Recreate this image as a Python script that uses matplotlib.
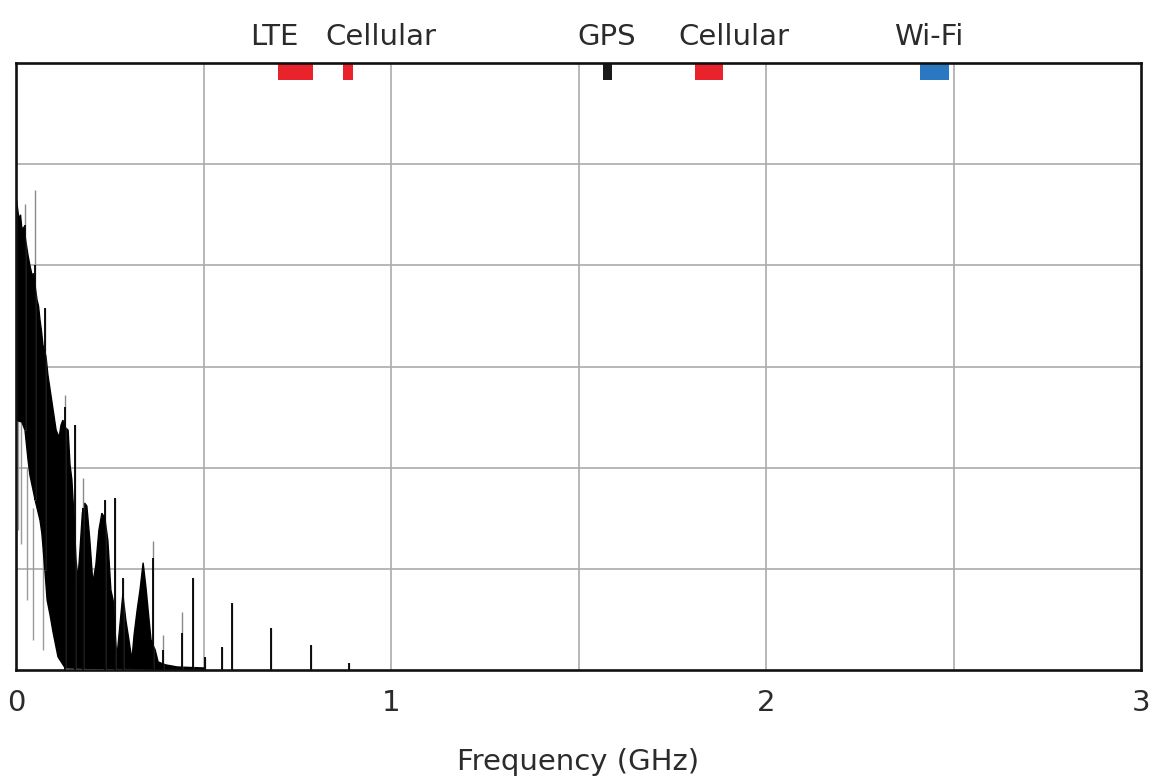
import matplotlib
matplotlib.use("Agg")
import matplotlib.pyplot as plt

# ---- data (frequency in GHz, level in grid divisions) ----
upper_freq = [0.000, 0.003, 0.008, 0.012, 0.016, 0.021, 0.027, 0.032, 0.037, 0.043,
              0.047, 0.051, 0.056, 0.060, 0.064, 0.068, 0.072, 0.080, 0.085, 0.093,
              0.099, 0.107, 0.115, 0.120, 0.125, 0.131, 0.139, 0.144, 0.149, 0.155,
              0.160, 0.165, 0.170, 0.177, 0.183, 0.189, 0.197, 0.205, 0.213, 0.221,
              0.229, 0.237, 0.245, 0.253, 0.259, 0.264, 0.269, 0.277, 0.285, 0.293,
              0.301, 0.309, 0.315, 0.323, 0.331, 0.339, 0.347, 0.355, 0.360, 0.365,
              0.371, 0.379, 0.392, 0.400, 0.430, 0.500]
upper_level = [4.69, 4.60, 4.45, 4.50, 4.35, 4.38, 4.22, 4.10, 4.00, 3.90,
               3.92, 3.80, 3.66, 3.60, 3.46, 3.35, 3.21, 3.10, 2.92, 2.72,
               2.57, 2.37, 2.30, 2.42, 2.47, 2.40, 2.37, 2.03, 1.88, 1.50,
               1.10, 0.89, 1.15, 1.55, 1.65, 1.62, 1.28, 0.86, 1.04, 1.38,
               1.55, 1.50, 1.28, 0.79, 0.69, 0.40, 0.12, 0.44, 0.75, 0.49,
               0.30, 0.10, 0.35, 0.59, 0.80, 1.06, 0.80, 0.49, 0.30, 0.25,
               0.20, 0.08, 0.06, 0.05, 0.03, 0.02]
lower_freq = [0.000, 0.016, 0.024, 0.032, 0.037, 0.051, 0.064, 0.069, 0.077, 0.083,
              0.091, 0.099, 0.112, 0.131, 0.500]
lower_level = [2.47, 2.45, 2.37, 2.08, 1.93, 1.68, 1.48, 1.35, 0.99, 0.69,
               0.54, 0.37, 0.13, 0.02, 0.00]

# narrow spikes: frequency, base, dark top, light (gray) top
spike_freq = [0.024, 0.051, 0.077, 0.131, 0.157, 0.179, 0.237, 0.264, 0.285, 0.365,
              0.392, 0.443, 0.472, 0.504, 0.549, 0.576, 0.680, 0.787, 0.888]
spike_base = [2.37, 1.68, 0.99, 0.00, 0.00, 0.00, 0.00, 0.00, 0.00, 0.00,
              0.00, 0.00, 0.00, 0.00, 0.00, 0.00, 0.00, 0.00, 0.00]
spike_dark = [4.40, 4.00, 3.58, 2.60, 2.42, 1.60, 1.68, 1.70, 0.91, 1.11,
              0.20, 0.37, 0.91, 0.13, 0.23, 0.66, 0.42, 0.25, 0.07]
spike_light = [4.61, 4.74, 3.58, 2.72, 2.42, 1.90, 1.68, 1.70, 0.91, 1.28,
               0.35, 0.57, 0.91, 0.13, 0.23, 0.66, 0.42, 0.25, 0.07]

# dips below the lower envelope
dip_freq = [0.005, 0.013, 0.029, 0.045, 0.072]
dip_top = [2.47, 2.45, 2.00, 1.60, 1.20]
dip_bottom = [1.38, 1.25, 0.69, 0.30, 0.20]

# frequency bands
band_names = ["LTE", "Cellular", "GPS", "Cellular", "Wi-Fi"]
band_start = [0.699, 0.872, 1.565, 1.811, 2.411]
band_end = [0.792, 0.899, 1.589, 1.885, 2.488]
band_colors = ["#e8232b", "#e8232b", "#1a1a1a", "#e8232b", "#2a78c2"]
label_pos = [0.69, 0.973, 1.575, 1.915, 2.435]

x_ticks = [0, 1, 2, 3]

# ---- figure ----
fig = plt.figure(figsize=(11.49, 7.83), dpi=100)
ax = fig.add_axes([16 / 1149, 1 - 670 / 783, 1125 / 1149, 607 / 783])
ax.set_xlim(0, 3)
ax.set_ylim(0, 6)

# grid
for gx in [0.5, 1.0, 1.5, 2.0, 2.5]:
    ax.axvline(gx, color="#ababab", lw=1.2, zorder=0)
for gy in [1, 2, 3, 4, 5]:
    ax.axhline(gy, color="#ababab", lw=1.2, zorder=0)

# spectrum mass
poly_x = upper_freq + lower_freq[::-1]
poly_y = upper_level + lower_level[::-1]
ax.fill(poly_x, poly_y, facecolor="black", edgecolor="black", lw=1.0, zorder=3)

# spikes
ax.vlines(spike_freq, spike_base, spike_light, colors="#8a8a8a", lw=1.0, zorder=3)
ax.vlines(spike_freq, spike_base, spike_dark, colors="black", lw=1.3, zorder=4)
ax.vlines(dip_freq, dip_bottom, dip_top, colors="#9a9a9a", lw=1.0, zorder=2)

# bands (bars at top)
for s, e, c in zip(band_start, band_end, band_colors):
    ax.bar(s, 0.17, width=e - s, bottom=5.83, align="edge", color=c, lw=0, zorder=5)

fs = 21
for name, px in zip(band_names, label_pos):
    ax.text(px, 6.12, name, ha="center", va="bottom",
            fontsize=fs, color="#2b2b2b", clip_on=False)

ax.set_xticks(x_ticks)
ax.set_xticklabels([str(t) for t in x_ticks], fontsize=fs, color="#2b2b2b")
ax.tick_params(axis="x", length=0, pad=14)
ax.set_yticks([])
ax.set_xlabel("Frequency (GHz)", fontsize=fs, color="#2b2b2b", labelpad=22)

for sp in ax.spines.values():
    sp.set_linewidth(1.9)
    sp.set_color("#111111")
    sp.set_zorder(6)

fig.savefig("out.png", dpi=100)
